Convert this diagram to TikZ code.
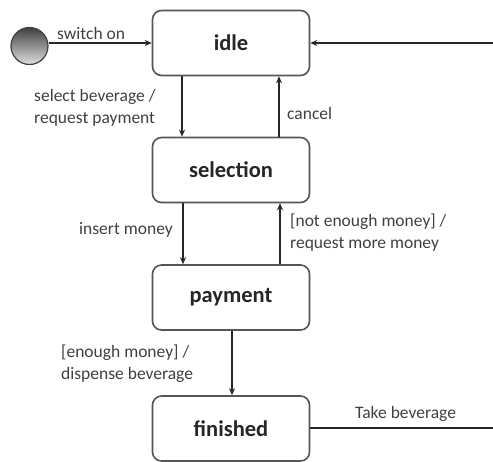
\documentclass[tikz,border=0pt]{standalone}
\usepackage{fontspec}
\setmainfont{Carlito}
\usetikzlibrary{arrows.meta,shadings}
\definecolor{boxline}{HTML}{555555}
\definecolor{lbl}{HTML}{404040}
\begin{document}
\begin{tikzpicture}[x=1pt,y=-1pt,
  state/.style={draw=boxline,line width=1.6pt,rounded corners=9pt,minimum width=157pt,minimum height=65pt,inner sep=0pt,font=\fontsize{22.5}{24}\selectfont\bfseries,text=black!85},
  trans/.style={line width=1.5pt,draw=black!85,-{Stealth[length=7pt,width=6pt]}},
  plain/.style={line width=1.5pt,draw=black!85},
  lab/.style={font=\fontsize{17.5}{22}\selectfont,text=lbl,inner sep=0pt,align=left}]
\useasboundingbox (0,0) rectangle (493,461);
\node[state] (idle) at (231,43) {idle};
\node[state] (selection) at (231,170) {selection};
\node[state] (payment) at (231,297.5) {payment};
\node[state] (finished) at (231,428.5) {finished};
\node[circle,draw=black!75,line width=1.2pt,minimum size=37pt,inner sep=0pt,top color=gray!50!black,bottom color=gray!25] (start) at (29.5,46) {};
\coordinate (rin) at (494,43);
\coordinate (rout) at (494,428);
\draw[trans] (start.east |- 0,43) -- (idle.west |- 0,43);
\draw[trans] (rin) -- (idle.east |- rin);
\draw[plain] (finished.east |- rout) -- (rout);
\draw[trans] ([xshift=-49pt]idle.south) -- ([xshift=-49pt]selection.north);
\draw[trans] ([xshift=48pt]selection.north) -- ([xshift=48pt]idle.south);
\draw[trans] ([xshift=-48pt]selection.south) -- ([xshift=-48pt]payment.north);
\draw[trans] ([xshift=49pt]payment.north) -- ([xshift=49pt]selection.south);
\draw[trans] ([xshift=1pt]payment.south) -- ([xshift=1pt]finished.north);
\node[lab,anchor=west] (l1) at (57,33) {switch on};
\node[lab,anchor=west] (l2) at (34,108) {select beverage /\\request payment};
\node[lab,anchor=west] (l3) at (287,113) {cancel};
\node[lab,anchor=west] (l4) at (79,230) {insert money};
\node[lab,anchor=west] (l5) at (290,233) {[not enough money] /\\request more money};
\node[lab,anchor=west] (l6) at (61,364) {[enough money] /\\dispense beverage};
\node[lab,anchor=west] (l7) at (355,414) {Take beverage};
\end{tikzpicture}
\end{document}
